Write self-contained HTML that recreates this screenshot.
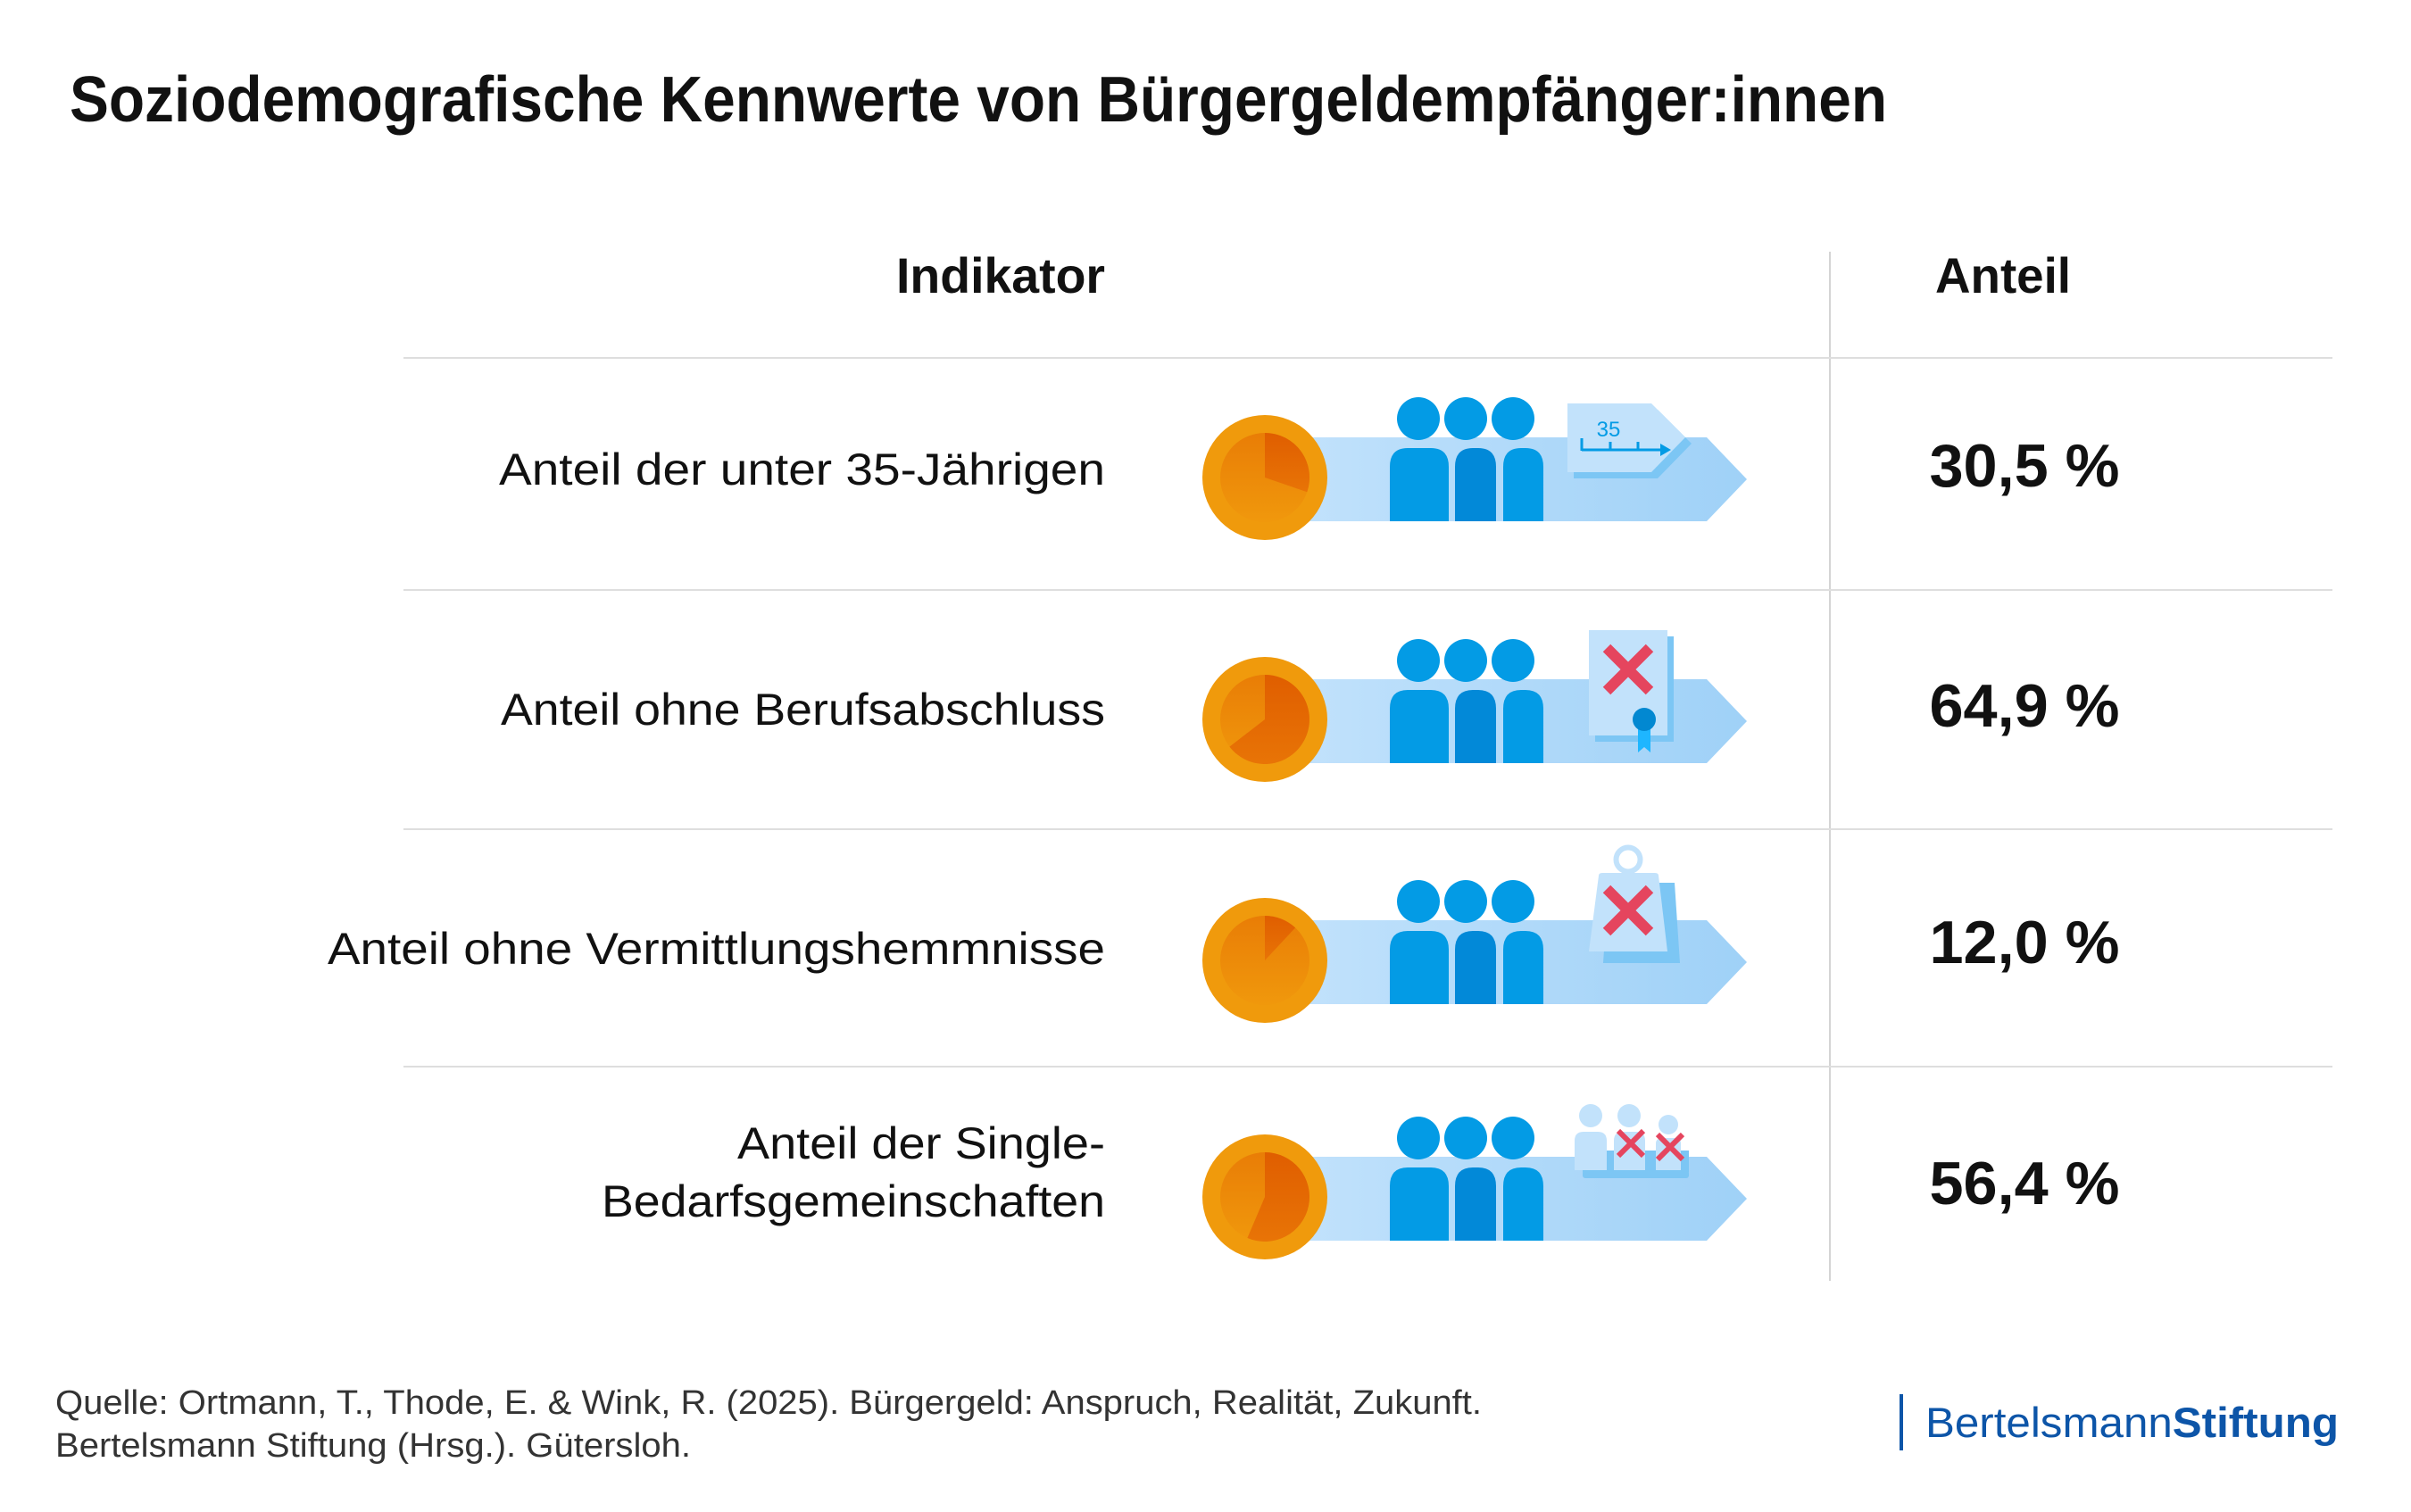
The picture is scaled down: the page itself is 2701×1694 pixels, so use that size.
<!DOCTYPE html>
<html><head><meta charset="utf-8"><style>html,body{margin:0;padding:0;background:#fff}svg{display:block}</style></head>
<body>
<svg width="2701" height="1694" viewBox="0 0 2701 1694" xmlns="http://www.w3.org/2000/svg" font-family="'Liberation Sans', sans-serif">
<defs>
<linearGradient id="band" x1="0" x2="1" y1="0" y2="0"><stop offset="0" stop-color="#c4e3fc"/><stop offset="1" stop-color="#9fd1f7"/></linearGradient>
<linearGradient id="inner" x1="0" x2="0" y1="0" y2="1"><stop offset="0" stop-color="#e97d06"/><stop offset="1" stop-color="#f0980c"/></linearGradient>
<linearGradient id="wedge" x1="0" x2="0" y1="0" y2="1"><stop offset="0" stop-color="#e05e00"/><stop offset="1" stop-color="#e87406"/></linearGradient>
<g id="base">
  <polygon points="0,-45 495,-45 540,2 495,49 0,49" fill="url(#band)"/>
  <circle cx="0" cy="0" r="70" fill="#f09a0c"/>
  <circle cx="0" cy="0" r="50" fill="url(#inner)"/>
  <circle cx="172" cy="-66" r="24" fill="#039be5"/>
  <circle cx="225" cy="-66" r="24" fill="#039be5"/>
  <circle cx="278" cy="-66" r="24" fill="#039be5"/>
  <path d="M140,49 V-12 Q140,-33 160,-33 H186 Q206,-33 206,-12 V49 Z" fill="#039be5"/>
  <path d="M213,49 V-12 Q213,-33 233,-33 H239 Q259,-33 259,-12 V49 Z" fill="#0289d8"/>
  <path d="M267,49 V-12 Q267,-33 287,-33 H292 Q312,-33 312,-12 V49 Z" fill="#039be5"/>
</g>
</defs>

<text x="78" y="136" font-size="72" font-weight="bold" fill="#111" textLength="2036" lengthAdjust="spacingAndGlyphs">Soziodemografische Kennwerte von Bürgergeldempfänger:innen</text>

<text x="1238" y="328" font-size="56" font-weight="bold" text-anchor="end" fill="#111" textLength="234" lengthAdjust="spacingAndGlyphs">Indikator</text>
<text x="2244" y="328" font-size="56" font-weight="bold" text-anchor="middle" fill="#111" textLength="152" lengthAdjust="spacingAndGlyphs">Anteil</text>

<line x1="2050" y1="282" x2="2050" y2="1435" stroke="#d4d4d4" stroke-width="2"/>
<g stroke="#dedede" stroke-width="2">
<line x1="452" y1="401" x2="2613" y2="401"/>
<line x1="452" y1="661" x2="2613" y2="661"/>
<line x1="452" y1="929" x2="2613" y2="929"/>
<line x1="452" y1="1195" x2="2613" y2="1195"/>
</g>

<g font-size="50" fill="#111" text-anchor="end">
<text x="1238" y="543" textLength="679" lengthAdjust="spacingAndGlyphs">Anteil der unter 35-Jährigen</text>
<text x="1238" y="812" textLength="677" lengthAdjust="spacingAndGlyphs">Anteil ohne Berufsabschluss</text>
<text x="1238" y="1080" textLength="871" lengthAdjust="spacingAndGlyphs">Anteil ohne Vermittlungshemmnisse</text>
<text x="1238" y="1298" textLength="412" lengthAdjust="spacingAndGlyphs">Anteil der Single-</text>
<text x="1238" y="1363" textLength="564" lengthAdjust="spacingAndGlyphs">Bedarfsgemeinschaften</text>
</g>

<g font-size="68" font-weight="bold" fill="#111" text-anchor="middle">
<text x="2268" y="545" textLength="213" lengthAdjust="spacingAndGlyphs">30,5 %</text>
<text x="2268" y="814" textLength="213" lengthAdjust="spacingAndGlyphs">64,9 %</text>
<text x="2268" y="1079" textLength="213" lengthAdjust="spacingAndGlyphs">12,0 %</text>
<text x="2268" y="1349" textLength="213" lengthAdjust="spacingAndGlyphs">56,4 %</text>
</g>

<!-- Row 1 -->
<g transform="translate(1417,535)">
  <use href="#base"/>
  <path d="M0,0 L0,-50 A50,50 0 0 1 47.3,16.3 Z" fill="url(#wedge)"/>
  <polygon points="346,-76 440,-76 478,-38 440,1 346,1" fill="#7cc6f4"/>
  <polygon points="339,-83 433,-83 471,-45 433,-6 339,-6" fill="#c2e2fb"/>
  <text x="385" y="-46" font-size="24" fill="#039be5" text-anchor="middle">35</text>
  <path d="M355,-44 V-30 M387,-40 V-30 M418,-40 V-30 M355,-31 H445" stroke="#039be5" stroke-width="3" fill="none"/>
  <polygon points="443,-38 455,-31 443,-24" fill="#039be5"/>
</g>

<!-- Row 2 -->
<g transform="translate(1417,806)">
  <use href="#base"/>
  <path d="M0,0 L0,-50 A50,50 0 1 1 -39.6,30.6 Z" fill="url(#wedge)"/>
  <rect x="370" y="-93" width="88" height="118" fill="#7cc6f4"/>
  <rect x="363" y="-100" width="88" height="118" fill="#c2e2fb"/>
  <path d="M383,-80 L431,-32 M431,-80 L383,-32" stroke="#e5455e" stroke-width="12"/>
  <polygon points="418,5 432,5 432,37 425,31 418,37" fill="#1eb6ff"/>
  <circle cx="425" cy="0" r="13" fill="#0288d1"/>
</g>

<!-- Row 3 -->
<g transform="translate(1417,1076)">
  <use href="#base"/>
  <path d="M0,0 L0,-50 A50,50 0 0 1 34.1,-36.6 Z" fill="url(#wedge)"/>
  <circle cx="407" cy="-113" r="13.5" fill="none" stroke="#c2e2fb" stroke-width="6"/>
  <path d="M378,-94 L452,-94 L458,-4 L372,-4 Z" fill="#7cc6f4" transform="translate(7,7)"/>
  <path d="M374,-99 Q374,-102 378,-102 L437,-102 Q441,-102 441,-99 L451,-14 L363,-14 Z" fill="#c2e2fb" transform="translate(0,4)"/>
  <path d="M383,-80 L431,-32 M431,-80 L383,-32" stroke="#e5455e" stroke-width="12"/>
</g>

<!-- Row 4 -->
<g transform="translate(1417,1341)">
  <use href="#base"/>
  <path d="M0,0 L0,-50 A50,50 0 1 1 -19.6,46 Z" fill="url(#wedge)"/>
  <rect x="356" y="-30" width="119" height="9" rx="3" fill="#7cc6f4"/>
  <rect x="356" y="-52" width="119" height="24" fill="#7cc6f4"/>
  <circle cx="365" cy="-91" r="13" fill="#c2e2fb"/>
  <circle cx="408" cy="-91" r="13" fill="#c2e2fb"/>
  <circle cx="452" cy="-81" r="11" fill="#c2e2fb"/>
  <path d="M347,-30 V-63 Q347,-73 357,-73 H373 Q383,-73 383,-63 V-30 Z" fill="#c2e2fb"/>
  <path d="M391,-30 V-63 Q391,-73 401,-73 H416 Q426,-73 426,-63 V-30 Z" fill="#c2e2fb"/>
  <path d="M438,-30 V-60 Q438,-66 446,-66 H459 Q466,-66 466,-60 V-30 Z" fill="#c2e2fb"/>
  <path d="M396,-74 L424,-46 M424,-74 L396,-46 M440,-70 L468,-42 M468,-70 L440,-42" stroke="#e5455e" stroke-width="6"/>
</g>

<g font-size="38" fill="#333">
<text x="62" y="1584" textLength="1598" lengthAdjust="spacingAndGlyphs">Quelle: Ortmann, T., Thode, E. &amp; Wink, R. (2025). Bürgergeld: Anspruch, Realität, Zukunft.</text>
<text x="62" y="1632" textLength="712" lengthAdjust="spacingAndGlyphs">Bertelsmann Stiftung (Hrsg.). Gütersloh.</text>
</g>

<rect x="2128" y="1562" width="4" height="63" fill="#0d55a8"/>
<text x="2157" y="1610" font-size="47" fill="#0d55a8" textLength="463" lengthAdjust="spacingAndGlyphs">Bertelsmann<tspan font-weight="bold">Stiftung</tspan></text>
</svg>
</body></html>
